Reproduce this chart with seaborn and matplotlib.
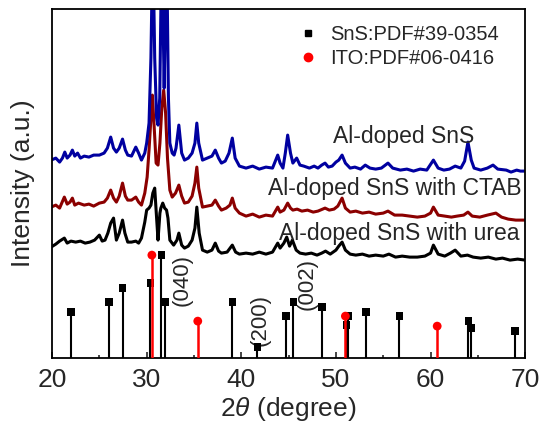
import numpy as np
import pandas as pd
import seaborn as sns
import matplotlib.pyplot as plt
from matplotlib.lines import Line2D

# XRD patterns (2theta in degree, intensity in arbitrary units)
blue_x = [19.9, 20.4, 20.8, 21.1, 21.35, 21.6, 21.9, 22.15, 22.4, 22.7, 23.0, 23.4, 23.9, 24.4,
          25.0, 25.5, 25.85, 26.2, 26.5, 26.8, 27.1, 27.45, 27.75, 28.0, 28.4, 28.85, 29.15, 29.45,
          29.8, 30.0, 30.25, 30.45, 30.65, 30.85, 31.05, 31.2, 31.38, 31.6, 31.85, 32.1, 32.3, 32.45,
          32.7, 32.9, 33.1, 33.4, 33.7, 34.0, 34.4, 34.8, 35.1, 35.3, 35.5, 35.9, 36.4, 36.9,
          37.25, 37.6, 37.9, 38.3, 38.7, 39.05, 39.35, 39.8, 40.5, 41.2, 41.9, 42.6, 43.3, 43.85,
          44.1, 44.4, 44.65, 44.9, 45.2, 45.45, 45.85, 46.2, 46.6, 47.2, 47.7, 48.1, 48.5, 48.85,
          49.2, 49.6, 50.0, 50.3, 50.65, 51.0, 51.5, 52.0, 52.6, 53.1, 53.6, 54.2, 54.8, 55.5,
          56.0, 56.8, 57.5, 58.2, 58.9, 59.6, 60.3, 60.8, 61.4, 62.0, 62.6, 63.2, 63.6, 63.95,
          64.3, 64.6, 65.3, 66.0, 66.6, 67.1, 68.0, 68.5, 69.1, 69.5, 70.0]
blue_y = [198, 200, 196, 200, 206, 200, 203, 208, 202, 205, 200, 202, 201, 203,
          203, 205, 210, 221, 210, 206, 210, 219, 208, 203, 202, 211, 205, 198,
          205, 215, 235, 300, 420, 300, 240, 233, 260, 420, 270, 420, 260, 215,
          205, 203, 210, 233, 205, 198, 200, 205, 215, 235, 215, 198, 200, 202,
          208, 200, 195, 197, 205, 220, 200, 192, 190, 192, 189, 191, 190, 203,
          195, 190, 205, 223, 205, 195, 200, 193, 192, 190, 192, 190, 193, 195,
          191, 192, 196, 198, 203, 195, 190, 191, 189, 193, 190, 189, 190, 195,
          190, 188, 189, 187, 189, 188, 198, 190, 188, 189, 192, 190, 197, 216,
          198, 190, 188, 190, 193, 189, 188, 186, 188, 187, 187]

red_x = [19.9, 20.4, 20.8, 21.3, 21.6, 21.9, 22.15, 22.4, 22.8, 23.4, 23.9, 24.4, 25.0, 25.5,
         25.85, 26.2, 26.5, 26.8, 27.1, 27.45, 27.75, 28.0, 28.4, 28.85, 29.15, 29.45, 29.8,
         30.05, 30.25, 30.45, 30.6, 30.8, 31.0, 31.2, 31.4, 31.6, 31.8, 32.0, 32.2, 32.45,
         32.7, 33.05, 33.4, 33.7, 34.0, 34.4, 34.8, 35.1, 35.3, 35.5, 35.9, 36.4, 36.9, 37.25,
         37.6, 37.9, 38.4, 38.8, 39.05, 39.35, 39.8, 40.5, 41.2, 41.9, 42.6, 43.3, 43.85, 44.1,
         44.5, 44.9, 45.2, 45.45, 45.9, 46.4, 47.0, 47.6, 48.1, 48.85, 49.3, 49.8, 50.2, 50.65,
         51.0, 51.5, 52.1, 52.8, 53.5, 54.2, 55.0, 55.5, 56.2, 57.0, 57.8, 58.6, 59.4, 60.0,
         60.3, 60.8, 61.5, 62.2, 62.8, 63.5, 63.95, 64.4, 65.2, 66.0, 66.9, 67.5, 68.2, 69.0, 70.0]
red_y = [151, 153, 150, 161, 154, 156, 160, 153, 155, 153, 154, 152, 155, 156,
         160, 168, 160, 156, 162, 175, 162, 158, 158, 161, 156, 153, 165,
         181, 208, 240, 263, 230, 195, 193, 215, 250, 268, 245, 200, 168,
         161, 165, 173, 162, 155, 156, 162, 175, 191, 170, 151, 152, 153, 158,
         152, 148, 150, 153, 160, 150, 145, 142, 144, 141, 143, 142, 151, 146,
         148, 155, 150, 148, 149, 147, 148, 146, 147, 150, 148, 149, 152, 160,
         150, 146, 147, 145, 146, 144, 145, 147, 143, 143, 142, 141, 142, 145,
         151, 143, 142, 141, 142, 143, 146, 142, 141, 143, 145, 141, 139, 138, 138]

black_x = [19.9, 20.4, 20.8, 21.3, 21.6, 22.0, 22.5, 23.0, 23.5, 24.0, 24.5, 25.0, 25.3, 25.6,
           25.9, 26.2, 26.5, 26.8, 27.1, 27.45, 27.7, 28.0, 28.4, 28.85, 29.15, 29.45, 29.8,
           30.0, 30.25, 30.45, 30.65, 30.85, 31.05, 31.2, 31.4, 31.5, 31.7, 31.9, 32.1, 32.25,
           32.45, 32.85, 33.2, 33.4, 33.7, 34.0, 34.4, 34.8, 35.1, 35.3, 35.55, 35.9, 36.4, 36.9,
           37.25, 37.6, 37.9, 38.5, 39.05, 39.4, 39.8, 40.5, 41.2, 41.9, 42.6, 43.3, 43.85, 44.1,
           44.5, 44.8, 45.1, 45.4, 45.8, 46.2, 46.8, 47.4, 48.0, 48.5, 48.9, 49.4, 50.0, 50.3,
           50.65, 51.0, 51.5, 52.1, 52.8, 53.5, 54.2, 55.0, 55.6, 56.3, 57.0, 57.8, 58.6, 59.4,
           60.0, 60.3, 60.8, 61.5, 62.1, 62.6, 63.2, 63.9, 64.5, 65.3, 66.1, 66.9, 67.6, 68.4,
           69.2, 70.0]
black_y = [111, 114, 117, 120, 115, 117, 116, 117, 115, 116, 118, 123, 117, 118,
           125, 135, 140, 118, 125, 138, 125, 116, 116, 117, 115, 120, 136,
           148, 150, 153, 165, 170, 140, 118, 145, 150, 155, 150, 148, 140,
           118, 113, 118, 125, 113, 110, 112, 118, 130, 151, 125, 108, 106, 108,
           115, 107, 105, 106, 113, 106, 104, 105, 104, 106, 104, 106, 115, 110,
           115, 121, 112, 118, 108, 105, 104, 105, 103, 105, 107, 104, 108, 112,
           116, 108, 104, 103, 104, 102, 103, 102, 104, 101, 102, 101, 101, 102,
           105, 113, 104, 102, 105, 108, 102, 103, 101, 100, 101, 99, 100, 98,
           99, 98]

# standard cards
sns_pos = [22.0, 26.0, 27.45, 30.4, 31.55, 31.95, 39.05, 41.7, 44.7, 45.5, 48.5, 51.1, 51.3,
           53.15, 56.7, 64.0, 64.3, 68.9]
sns_int = [46, 56, 70, 75, 103, 56, 56, 11, 42, 56, 51, 33, 42, 46, 42, 37, 30, 27]
ito_pos = [30.55, 35.4, 51.0, 60.7]
ito_int = [103, 37, 42, 32]

sns.set_style('ticks')
plt.rcParams['font.family'] = ['Liberation Sans', 'DejaVu Sans']
plt.rcParams['mathtext.fontset'] = 'custom'
plt.rcParams['mathtext.it'] = 'Liberation Sans:italic'
plt.rcParams['mathtext.rm'] = 'Liberation Sans'

fig = plt.figure(figsize=(5.42, 4.32), dpi=100)
ax = fig.add_axes([0.096, 0.171, 0.873, 0.808])

curves = [(black_x, black_y, 'black'), (red_x, red_y, '#8b0000'), (blue_x, blue_y, '#0000a0')]
for cx, cy, col in curves:
    sns.lineplot(x=cx, y=cy, color=col, lw=2.2, ax=ax, estimator=None, sort=False)

ax.vlines(sns_pos, 0, sns_int, color='black', lw=1.5, zorder=3)
sns.scatterplot(x=sns_pos, y=sns_int, marker='s', color='black', s=30, edgecolor='none',
                ax=ax, zorder=4)
ax.vlines(ito_pos, 0, ito_int, color='red', lw=1.8, zorder=5)
sns.scatterplot(x=ito_pos, y=ito_int, marker='o', color='red', s=40, edgecolor='none',
                ax=ax, zorder=6)

ax.text(33.7, 78, '(040)', rotation=90, ha='center', va='center', fontsize=16)
ax.text(42.0, 38, '(200)', rotation=90, ha='center', va='center', fontsize=16)
ax.text(47.0, 74, '(002)', rotation=90, ha='center', va='center', fontsize=16)

ax.text(64.6, 222, 'Al-doped SnS', ha='right', va='center', fontsize=16.5)
ax.text(69.6, 170, 'Al-doped SnS with CTAB', ha='right', va='center', fontsize=16.5)
ax.text(69.4, 125, 'Al-doped SnS with urea', ha='right', va='center', fontsize=16.5)

handles = [Line2D([], [], marker='s', color='black', ls='none', markersize=5),
           Line2D([], [], marker='o', color='red', ls='none', markersize=6)]
ax.legend(handles, ['SnS:PDF#39-0354', 'ITO:PDF#06-0416'], loc='upper left',
          bbox_to_anchor=(0.478, 1.005), frameon=False, fontsize=14.5, handletextpad=0.5,
          labelspacing=0.25, handlelength=1.2)

ax.set_xlim(20, 70)
ax.set_ylim(0, 349)
ax.set_xticks([20, 30, 40, 50, 60, 70])
ax.set_xticks([25, 35, 45, 55, 65], minor=True)
ax.set_yticks([])
ax.tick_params(axis='x', which='major', direction='in', length=4, width=1.2,
               labelsize=19, pad=7)
ax.tick_params(axis='x', which='minor', direction='in', length=2.5, width=1.2)
ax.set_xlabel(r'2$\it{\theta}$ (degree)', fontsize=19, labelpad=2)
ax.set_ylabel('Intensity (a.u.)', fontsize=19, labelpad=12)
for sp in ax.spines.values():
    sp.set_linewidth(1.3)
    sp.set_color('black')

fig.savefig('out.png', dpi=100)
